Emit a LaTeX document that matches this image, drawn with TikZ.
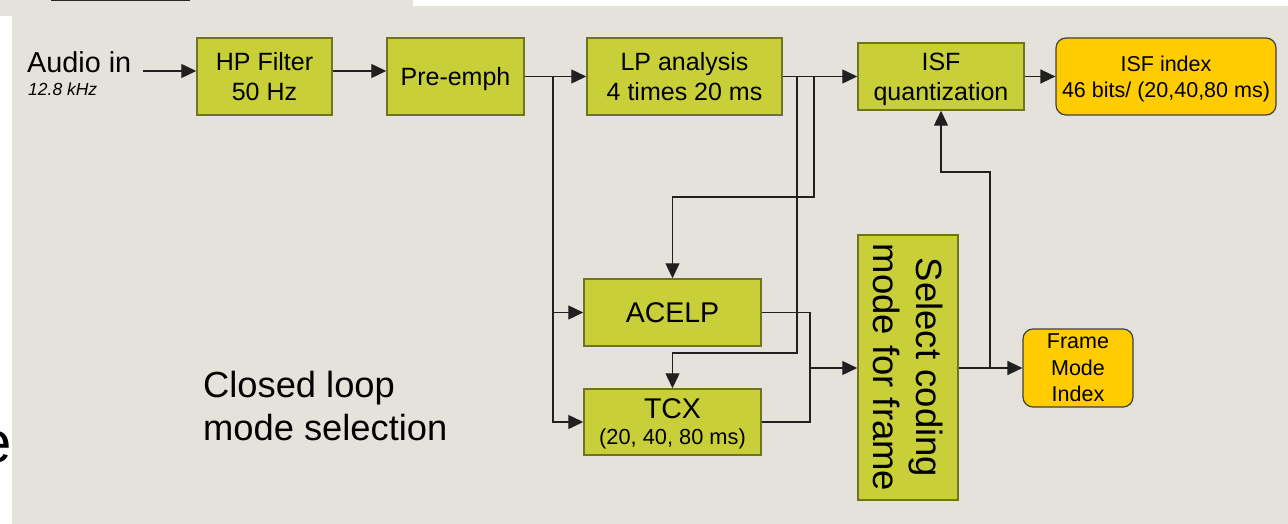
\documentclass[tikz,border=0pt]{standalone}
\usepackage{fontspec}
\setmainfont{Liberation Sans}
\usetikzlibrary{arrows.meta}

\definecolor{panel}{HTML}{E4E2DB}
\definecolor{boxgreen}{HTML}{C8CF38}
\definecolor{boxedge}{HTML}{6E7420}
\definecolor{idxfill}{HTML}{FFCC00}
\definecolor{wirecol}{HTML}{202020}

\begin{document}
\begin{tikzpicture}[x=1pt,y=-1pt,
  blk/.style={draw=boxedge, fill=boxgreen, line width=1.5pt, inner sep=0pt,
              align=center, text=black, text depth=0pt,
              font=\fontsize{25}{30}\selectfont},
  idx/.style={draw=black!75, fill=idxfill, line width=1.2pt, rounded corners=10pt,
              inner sep=0pt, align=center, text depth=0pt,
              font=\fontsize{21.5}{26}\selectfont},
  wire/.style={draw=wirecol, line width=1.4pt},
  flow/.style={wire, -{Triangle[length=15pt,width=14pt]}},
  plain/.style={inner sep=0pt, text=black},
]
% page and background panel
\useasboundingbox (0,0) rectangle (1288,524);
\fill[panel] (0,0) rectangle (1288,524);
\fill[white] (0,16) rectangle (12,524);
\fill[white] (413,0) rectangle (1288,6);
\draw[black!85, line width=1.6pt] (51,0.6) -- (190,0.6);
\begin{scope}
  \clip (0,16) rectangle (12,524);
  \node[plain, anchor=base east, font=\fontsize{58}{60}\selectfont] (edge) at (12,462) {e};
\end{scope}

% input labels
\node[plain, anchor=base west, font=\fontsize{28.8}{30}\selectfont] (audio) at (27,73) {Audio in};
\node[plain, anchor=base west, font=\fontsize{17.5}{18}\selectfont\itshape] (rate) at (28,96) {12.8 kHz};
\coordinate (ain) at (143,71);

% processing blocks
\node[blk, minimum width=135pt, minimum height=77pt] (hp)  at (264.5,76.5) {HP Filter\\50 Hz};
\node[blk, minimum width=137pt, minimum height=77pt] (pre) at (455.5,76.5) {Pre-emph};
\node[blk, minimum width=195pt, minimum height=77pt] (lp)  at (684.5,76.5) {LP analysis\\4 times 20 ms};
\node[blk, minimum width=166pt, minimum height=67pt] (isfq) at (941,76.5) {ISF\\quantization};
\node[idx, minimum width=220pt, minimum height=77pt] (isfi) at (1166,76.5) {ISF index\\46 bits/ (20,40,80 ms)};

\node[blk, minimum width=177pt, minimum height=67pt, font=\fontsize{28.5}{30}\selectfont] (acelp) at (672.5,312.5) {ACELP};
\node[blk, minimum width=177pt, minimum height=66pt, font=\fontsize{28.5}{26}\selectfont] (tcx) at (672.5,422)
  {TCX\\{\fontsize{21.8}{26}\selectfont (20, 40, 80 ms)}};

\node[blk, minimum width=100pt, minimum height=265pt] (sel) at (908,367.5) {};
\node[plain, rotate=-90, align=center, font=\fontsize{36.5}{43}\selectfont] (seltxt) at (sel.center)
  {Select coding\\mode for frame};

\node[idx, minimum width=110pt, minimum height=78pt, font=\fontsize{21.5}{26.5}\selectfont] (fmi) at (1078,368)
  {Frame\\Mode\\Index};

% the base anchor of this two-line label sits on its last line
\node[plain, anchor=base west, align=left, font=\fontsize{36.3}{43}\selectfont] (loop) at (203,440)
  {Closed loop\\mode selection};

% branch points
\coordinate (b1) at (553,76.5);
\coordinate (b2) at (797,76.5);
\coordinate (b3) at (814,76.5);
\coordinate (k2) at (797,353);
\coordinate (k3) at (814,197);
\coordinate (m)  at (810,368);
\coordinate (b4) at (990,368);
\coordinate (k4) at (990,172);

% main chain
\draw[flow] (ain) -- (ain -| hp.west);
\draw[flow] ([yshift=5.5pt]hp.east) -- ([yshift=5.5pt]pre.west);
\draw[flow] (pre.east) -- (lp.west);
\draw[flow] (lp.east) -- (isfq.west);
\draw[flow] (isfq.east) -- (isfi.west);

% speech signal to both coders
\draw[flow] (b1) |- (acelp.west);
\draw[flow] (b1) |- (tcx.west);

% LP parameters to both coders
\draw[flow] (b3) -- (k3) -| (acelp.north);
\draw[flow] (b2) -- (k2) -| (tcx.north);

% coder outputs to the mode decision
\draw[wire] (acelp.east) -| (m);
\draw[wire] (tcx.east) -| (m);
\draw[flow] (m) -- (m -| sel.west);

% mode decision outputs
\draw[flow] (sel.east |- b4) -- (b4 -| fmi.west);
\draw[flow] (b4) -- (k4) -| (isfq.south);
\end{tikzpicture}
\end{document}
